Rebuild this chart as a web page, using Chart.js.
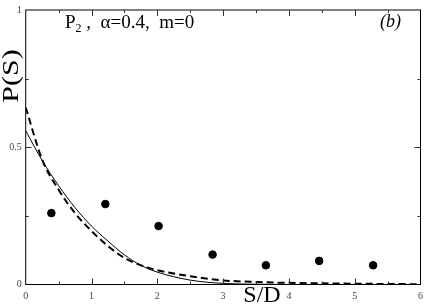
<!DOCTYPE html>
<html>
<head>
<meta charset="utf-8">
<script src="https://cdn.jsdelivr.net/npm/chart.js@4.4.1/dist/chart.umd.min.js"></script>
<style>
  html, body { margin: 0; padding: 0; background: #fff; }
  #wrap { width: 429px; height: 306px; }
</style>
</head>
<body>
<div id="wrap"><canvas id="pChart" width="429" height="306"></canvas></div>
<script>
// measured histogram points
const dotS = [0.39, 1.21, 2.02, 2.84, 3.65, 4.46, 5.28];
const dotP = [0.26, 0.293, 0.213, 0.109, 0.07, 0.086, 0.07];

// curves
const curveS = [0, 0.25, 0.5, 0.75, 1, 1.25, 1.5, 1.75, 2, 2.5, 3, 3.5, 4, 5, 6];
const solidP = [0.56, 0.452, 0.36, 0.28, 0.213, 0.158, 0.108, 0.07, 0.045, 0.016, 0.004, 0.001, 0, 0, 0];
const dashedP = [0.645, 0.455, 0.345, 0.26, 0.195, 0.14, 0.097, 0.07, 0.052, 0.03, 0.015, 0.009, 0.006, 0.003, 0.001];

const xTicks = [0, 1, 2, 3, 4, 5, 6];
const yTicks = [0, 0.5, 1];

const toPts = (xs, ys) => xs.map((x, i) => ({ x: x, y: ys[i] }));

const serif = "'Liberation Serif', 'DejaVu Serif', serif";

const framePlugin = {
  id: "frame",
  afterDraw(chart) {
    const ctx = chart.ctx;
    const a = chart.chartArea;
    const xs = chart.scales.x;
    const ys = chart.scales.y;
    ctx.save();
    ctx.strokeStyle = "#000";
    ctx.lineWidth = 1;
    ctx.strokeRect(a.left, a.top, a.right - a.left, a.bottom - a.top);

    // inward ticks on all four sides
    ctx.strokeStyle = "#333";
    for (let v = 0.5; v < 6; v += 0.5) {
      const px = Math.round(xs.getPixelForValue(v)) + 0.5;
      const len = Number.isInteger(v) ? 6 : 3;
      ctx.beginPath();
      ctx.moveTo(px, a.bottom); ctx.lineTo(px, a.bottom - len);
      ctx.moveTo(px, a.top); ctx.lineTo(px, a.top + len);
      ctx.stroke();
    }
    for (let v = 0.25; v < 1; v += 0.25) {
      const py = Math.round(ys.getPixelForValue(v)) + 0.5;
      const len = v === 0.5 ? 6 : 3;
      ctx.beginPath();
      ctx.moveTo(a.left, py); ctx.lineTo(a.left + len, py);
      ctx.moveTo(a.right, py); ctx.lineTo(a.right - len, py);
      ctx.stroke();
    }

    // titles and labels
    ctx.fillStyle = "#000";
    ctx.textBaseline = "alphabetic";
    ctx.textAlign = "center";
    ctx.font = "24px " + serif;
    ctx.fillText("S/D", 262, 302);

    ctx.save();
    ctx.translate(18, 76);
    ctx.rotate(-Math.PI / 2);
    ctx.scale(1, 0.75);
    ctx.font = "30px " + serif;
    ctx.fillText("P(S)", 0, 0);
    ctx.restore();

    ctx.textAlign = "left";
    ctx.font = "19px " + serif;
    ctx.fillText("P", 65, 28);
    let w = ctx.measureText("P").width;
    ctx.font = "12px " + serif;
    ctx.fillText("2", 65 + w, 32);
    w += ctx.measureText("2").width;
    ctx.font = "19px " + serif;
    ctx.fillText(" ,  \u03b1=0.4,  m=0", 65 + w, 28);

    ctx.font = "italic 18px " + serif;
    ctx.fillText("(b)", 380, 27);
    ctx.restore();
  }
};

new Chart(document.getElementById("pChart"), {
  type: "scatter",
  data: {
    datasets: [
      {
        data: toPts(curveS, solidP),
        showLine: true,
        borderColor: "#000",
        borderWidth: 1,
        pointRadius: 0,
        cubicInterpolationMode: "monotone",
      },
      {
        data: toPts(curveS, dashedP),
        showLine: true,
        borderColor: "#000",
        borderWidth: 2,
        borderDash: [7, 4],
        pointRadius: 0,
        cubicInterpolationMode: "monotone",
      },
      {
        data: toPts(dotS, dotP),
        showLine: false,
        pointRadius: 3.8,
        pointBackgroundColor: "#000",
        pointBorderColor: "#000",
      },
    ],
  },
  options: {
    responsive: false,
    animation: false,
    layout: { padding: { top: 5, right: 5, left: 0, bottom: 0 } },
    plugins: { legend: { display: false }, tooltip: { enabled: false } },
    scales: {
      x: {
        type: "linear",
        min: 0,
        max: 6,
        grid: { display: false, drawTicks: false },
        border: { display: false },
        afterBuildTicks: (s) => { s.ticks = xTicks.map((v) => ({ value: v })); },
        afterFit: (s) => { s.height = 21.5; },
        ticks: {
          padding: 6, color: "#444", maxRotation: 0,
          font: { family: serif, size: 10 },
          callback: (v) => String(v),
        },
      },
      y: {
        min: 0,
        max: 1,
        grid: { display: false, drawTicks: false },
        border: { display: false },
        afterBuildTicks: (s) => { s.ticks = yTicks.map((v) => ({ value: v })); },
        afterFit: (s) => { s.width = 25.7; },
        ticks: {
          padding: 4, color: "#444",
          font: { family: serif, size: 10 },
          callback: (v) => String(v),
        },
      },
    },
  },
  plugins: [framePlugin],
});
</script>
</body>
</html>
